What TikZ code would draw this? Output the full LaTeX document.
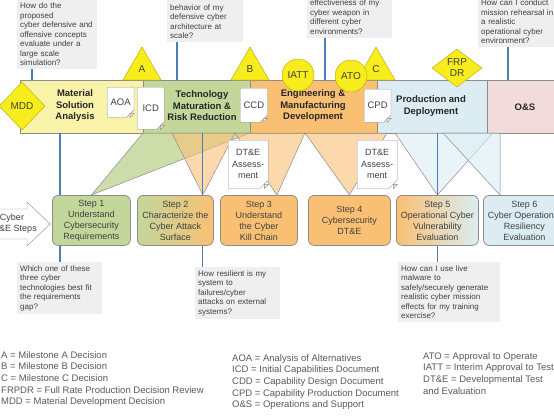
\documentclass[tikz,border=0pt]{standalone}
\usepackage{fontspec}
\setmainfont{Liberation Sans}
\usetikzlibrary{shapes.geometric,shapes.misc,calc}

\definecolor{msaYellow}{HTML}{F8F3A8}
\definecolor{tmrrGreen}{HTML}{C4D79B}
\definecolor{emdOrange}{HTML}{F9C074}
\definecolor{pdBlue}{HTML}{DBEDF3}
\definecolor{osPink}{HTML}{F2DCDB}
\definecolor{msYellow}{HTML}{F7EC1C}
\definecolor{msEdge}{HTML}{BBA600}
\definecolor{qGray}{HTML}{EFEFEF}
\definecolor{qLine}{HTML}{4A7EBB}
\definecolor{txtGray}{HTML}{404040}
\definecolor{legGray}{HTML}{595959}
\definecolor{edgeGray}{HTML}{8C8C8C}

\begin{document}
\begin{tikzpicture}[x=1pt, y=-1pt,
    phase/.style={rectangle, draw=edgeGray, anchor=north west, minimum height=53pt, inner sep=0pt},
    phlabel/.style={align=center, font=\fontsize{9.5}{11.5}\selectfont\bfseries, text=black!85},
    doc/.style={chamfered rectangle, chamfered rectangle corners=south east, chamfered rectangle sep=4pt,
                draw=edgeGray, fill=white, anchor=north west, inner sep=0pt, align=center,
                font=\fontsize{9.5}{11.5}\selectfont, text=txtGray},
    mstone/.style={regular polygon, regular polygon sides=3, fill=msYellow, draw=msEdge,
                   minimum size=44pt, inner sep=0pt, font=\fontsize{10}{12}\selectfont, text=txtGray},
    gate/.style={circle, fill=msYellow, draw=msEdge, minimum size=32pt, inner sep=0pt,
                 font=\fontsize{10}{12}\selectfont, text=txtGray},
    review/.style={diamond, fill=msYellow, draw=msEdge, inner sep=0pt, align=center,
                   font=\fontsize{10}{11}\selectfont, text=txtGray},
    stepbox/.style={rectangle, rounded corners=6pt, draw=edgeGray, line width=0.8pt, anchor=north west,
                    minimum height=50pt, inner sep=1pt, align=center, font=\fontsize{9}{11}\selectfont, text=txtGray},
    qbox/.style={fill=qGray, anchor=north west, inner sep=3pt, align=left,
                 font=\fontsize{8}{9.5}\selectfont, text=txtGray},
    qline/.style={draw=qLine, line width=1.2pt},
    wedge/.style={draw=edgeGray, line width=0.5pt, fill opacity=0.6},
    legend/.style={anchor=north west, inner sep=0pt, align=left, font=\fontsize{9.5}{11.7}\selectfont, text=legGray}
]
    \useasboundingbox (0,0) rectangle (554,415);
    \clip (0,0) rectangle (554,415);

    % acquisition phases
    \node[phase, fill=msaYellow, minimum width=123pt] (msa) at (20,80) {};
    \node[phase, fill=tmrrGreen, minimum width=107pt] (tmrr) at (143,80) {};
    \node[phase, fill=emdOrange, minimum width=127pt] (emd) at (250,80) {};
    \node[phase, fill=pdBlue, minimum width=110pt] (pd) at (377,80) {};
    \node[phase, fill=osPink, minimum width=80pt] (os) at (487,80) {};

    \node[phlabel] (msaL) at (75,106) {Material\\Solution\\Analysis};
    \node[phlabel] (tmrrL) at (202,106) {Technology\\Maturation \&\\Risk Reduction};
    \node[phlabel] (emdL) at (313,106) {Engineering \&\\Manufacturing\\Development};
    \node[phlabel] (pdL) at (431,106) {Production and\\Deployment};
    \node[phlabel] (osL) at (525,107) {O\&S};

    % cyber DT&E steps
    \node[stepbox, fill=tmrrGreen, minimum width=78pt] (s1) at (52,195) {Step 1\\Understand\\Cybersecurity\\Requirements};
    \node[stepbox, left color=tmrrGreen, right color=emdOrange, minimum width=76pt] (s2) at (137,195) {Step 2\\Characterize the\\Cyber Attack\\Surface};
    \node[stepbox, fill=emdOrange, minimum width=77pt] (s3) at (220,195) {Step 3\\Understand\\the Cyber\\Kill Chain};
    \node[stepbox, fill=emdOrange, minimum width=82pt] (s4) at (308,195) {Step 4\\Cybersecurity\\DT\&E};
    \node[stepbox, left color=emdOrange, right color=pdBlue, minimum width=82pt] (s5) at (396,195) {Step 5\\Operational Cyber\\Vulnerability\\Evaluation};
    \node[stepbox, fill=pdBlue, minimum width=82pt] (s6) at (483,195) {Step 6\\Cyber Operational\\Resiliency\\Evaluation};

    \draw[fill=white, draw=edgeGray] (-5,209) -- (27,209) -- (27,202) -- (50,224) -- (27,246) -- (27,239) -- (-5,239) -- cycle;
    \node[align=center, font=\fontsize{9}{11}\selectfont, text=txtGray] (cyb) at (12,224) {Cyber\\DT\&E Steps};

    % funnels from phases to steps
    \filldraw[wedge, fill=tmrrGreen, fill opacity=0.85] (143,133) -- (250,133) -- (s1.north) -- cycle;
    \filldraw[wedge, fill=emdOrange] (172,133) -- (235,133) -- ($(s2.north east)+(-11,0)$) -- cycle;
    \filldraw[wedge, fill=emdOrange] (235,133) -- (305,133) -- ($(s3.north)+(18,0)$) -- cycle;
    \filldraw[wedge, fill=emdOrange] (305,133) -- (387,133) -- (s4.north) -- cycle;
    \filldraw[wedge, fill=pdBlue] (395,133) -- (493,133) -- (s5.north) -- cycle;
    \filldraw[wedge, fill=pdBlue] (443,133) -- (500,133) -- ($(s6.north west)+(17,0)$) -- cycle;

    % documents
    \node[doc, minimum width=26pt, minimum height=30pt] (aoa) at (107,87) {AOA};
    \node[doc, minimum width=27pt, minimum height=42pt] (icd) at (137,87) {ICD};
    \node[doc, minimum width=27pt, minimum height=34pt] (ccd) at (240,88) {CCD};
    \node[doc, minimum width=24pt, minimum height=33pt] (cpd) at (364,89) {CPD};
    \node[doc, minimum width=40pt, minimum height=48pt, font=\fontsize{9}{11.5}\selectfont] (dta) at (228,140) {DT\&E\\Assess-\\ment};
    \node[doc, minimum width=40pt, minimum height=48pt, font=\fontsize{9}{11.5}\selectfont] (dtb) at (357,140) {DT\&E\\Assess-\\ment};
    \foreach \d in {aoa,icd,ccd,cpd,dta,dtb}
        \filldraw[draw=edgeGray, fill=black!6] ($(\d.south -| \d.east)+(0,-4)$) -- ++(-4,0) -- ++(0,4) -- cycle;

    % milestones and decisions
    \node[review, minimum width=46pt, minimum height=48pt] (mdd) at (22,106) {MDD};
    \node[mstone] (mA) at (142,69) {A};
    \node[mstone] (mB) at (250,69) {B};
    \node[mstone] (mC) at (376,69) {C};
    \node[gate] (iatt) at (298,75) {IATT};
    \node[gate] (ato) at (351,76) {ATO};
    \node[review, minimum width=50pt, minimum height=38pt] (frp) at (457,68) {FRP\\DR};

    % questions
    \node[qbox, text width=74pt] (q1) at (17,0) {How do the\\proposed\\cyber defensive and\\offensive concepts\\evaluate under a\\large scale\\simulation?};
    \node[qbox, text width=70pt] (q2) at (167,-8) {What is the\\behavior of my\\defensive cyber\\architecture at\\scale?};
    \node[qbox, text width=79pt] (q3) at (307,-3) {effectiveness of my\\cyber weapon in\\different cyber\\environments?};
    \node[qbox, text width=76pt] (q4) at (478,-3) {How can I conduct\\mission rehearsal in\\a realistic\\operational cyber\\environment?};
    \node[qbox, text width=79pt] (q5) at (17,262) {Which one of these\\three cyber\\technologies best fit\\the requirements\\gap?};
    \node[qbox, text width=79pt] (q6) at (195,267) {How resilient is my\\system to\\failures/cyber\\attacks on external\\systems?};
    \node[qbox, text width=96pt] (q7) at (398,262) {How can I use live\\malware to\\safely/securely generate\\realistic cyber mission\\effects for my training\\exercise?};

    \draw[qline] ($(q1.south west)+(15,0)$) coordinate (t1) -- (t1 |- msa.north);
    \draw[qline] ($(q2.south west)+(10,0)$) coordinate (t2) -- (t2 |- tmrr.north);
    \draw[qline] ($(q3.south west)+(18,0)$) coordinate (t3) -- (t3 |- emd.north);
    \draw[qline] ($(q4.south west)+(30,0)$) coordinate (t4) -- (t4 |- os.north);
    \draw[qline] ($(s1.north west)+(8,0)$) coordinate (b1) -- (b1 |- msa.south);
    \draw[qline] (b1 |- s1.south) -- (b1 |- q5.north);
    \draw[qline] ($(s2.north east)+(-11,0)$) coordinate (b2) -- (b2 |- tmrr.south);
    \draw[qline] (b2 |- s2.south) -- (b2 |- q6.north);
    \draw[qline] (s5.north) -- (s5.north |- pd.south);
    \draw[qline] (s5.south) -- (s5.south |- q7.north);

    % legend
    \node[legend] (leg1) at (1,351) {A = Milestone A Decision\\B = Milestone B Decision\\C = Milestone C Decision\\FRPDR = Full Rate Production Decision Review\\MDD = Material Development Decision};
    \node[legend] (leg2) at (232,354) {AOA = Analysis of Alternatives\\ICD = Initial Capabilities Document\\CDD = Capability Design Document\\CPD = Capability Production Document\\O\&S = Operations and Support};
    \node[legend] (leg3) at (423,352) {ATO = Approval to Operate\\IATT = Interim Approval to Test\\DT\&E = Developmental Test\\and Evaluation};
\end{tikzpicture}
\end{document}
